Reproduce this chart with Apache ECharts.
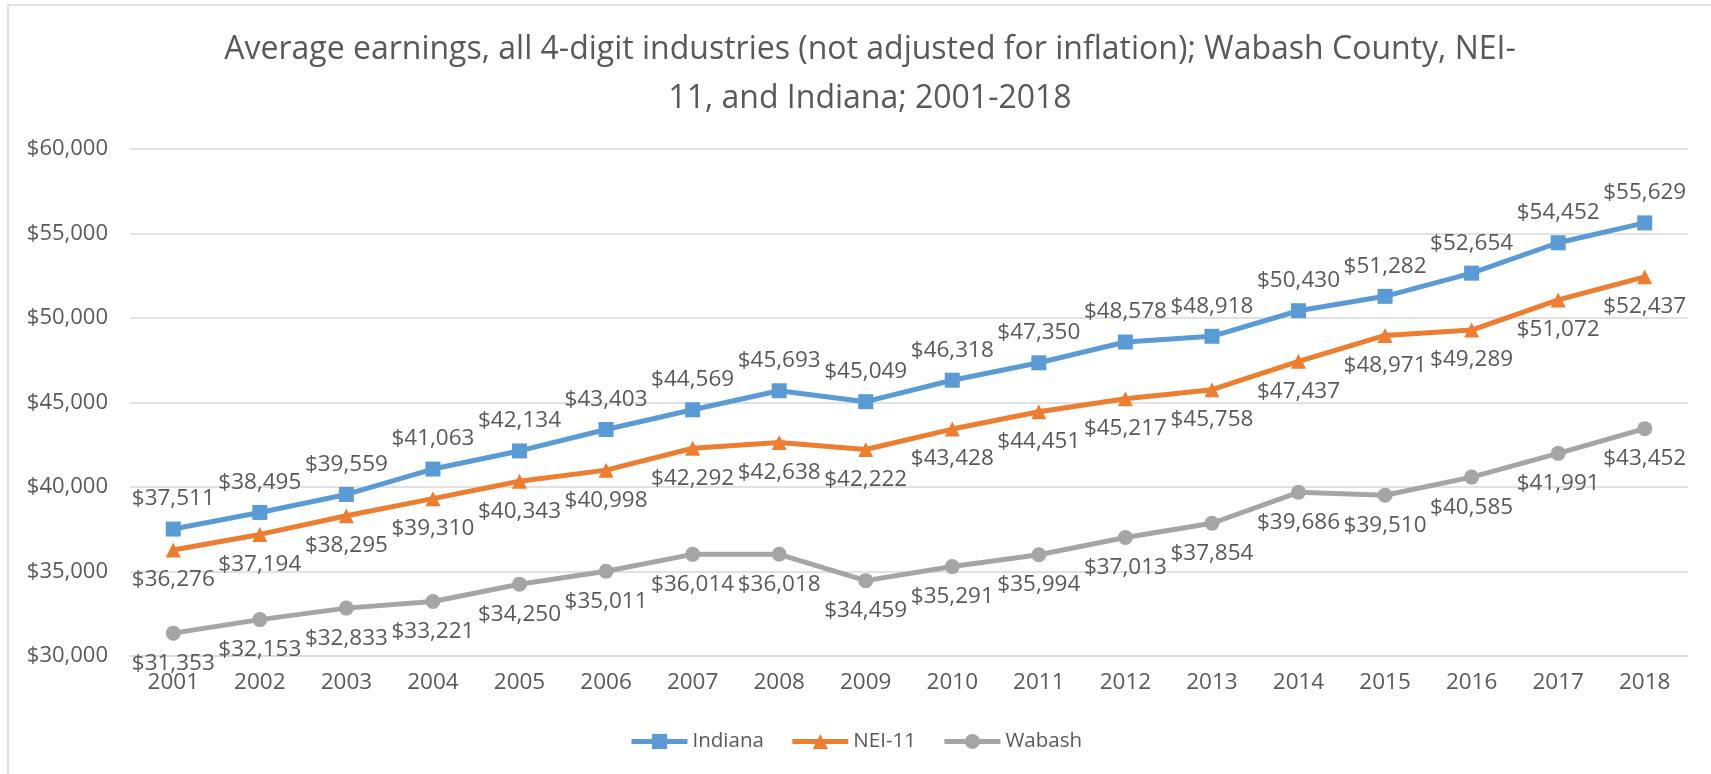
<!DOCTYPE html>
<html>
<head>
<meta charset="utf-8">
<script src="https://cdn.jsdelivr.net/npm/echarts@6/dist/echarts.min.js"></script>
<style>
  html, body { margin: 0; padding: 0; background: #ffffff; }
  #chart { width: 1711px; height: 774px; }
</style>
</head>
<body>
<div id="chart"></div>
<script>
// Years on the category axis
const years = ['2001','2002','2003','2004','2005','2006','2007','2008','2009',
               '2010','2011','2012','2013','2014','2015','2016','2017','2018'];

// Average earnings, not adjusted for inflation
const indiana = [37511, 38495, 39559, 41063, 42134, 43403, 44569, 45693, 45049,
                 46318, 47350, 48578, 48918, 50430, 51282, 52654, 54452, 55629];
const nei11   = [36276, 37194, 38295, 39310, 40343, 40998, 42292, 42638, 42222,
                 43428, 44451, 45217, 45758, 47437, 48971, 49289, 51072, 52437];
const wabash  = [31353, 32153, 32833, 33221, 34250, 35011, 36014, 36018, 34459,
                 35291, 35994, 37013, 37854, 39686, 39510, 40585, 41991, 43452];

// Value axis range
const yMin = 30000;
const yMax = 60000;
const yStep = 5000;

const FONT = '"Open Sans", "Noto Sans", sans-serif';
const TEXT = '#595959';

const money = v => '$' + Number(v).toLocaleString('en-US');

const chart = echarts.init(document.getElementById('chart'), null, { renderer: 'canvas' });

function lineSeries(name, data, color, symbol, labelPos) {
  return {
    name: name,
    type: 'line',
    data: data,
    symbol: symbol,
    symbolSize: 15,
    lineStyle: { color: color, width: 5 },
    itemStyle: { color: color },
    label: {
      show: true,
      position: labelPos,
      distance: 11,
      formatter: p => money(p.value),
      color: TEXT,
      fontFamily: FONT,
      fontSize: 22.5
    },
    emphasis: { disabled: true },
    animation: false
  };
}

chart.setOption({
  backgroundColor: '#ffffff',
  animation: false,
  title: {
    text: 'Average earnings, all 4-digit industries (not adjusted for inflation); Wabash County, NEI-\n11, and Indiana; 2001-2018',
    left: 865,
    top: 20,
    textAlign: 'center',
    textStyle: {
      color: TEXT,
      fontFamily: FONT,
      fontSize: 32,
      fontWeight: 'normal',
      lineHeight: 49
    }
  },
  legend: {
    bottom: 17,
    left: 'center',
    itemWidth: 56,
    itemHeight: 19,
    itemGap: 26,
    lineStyle: { width: 5 },
    textStyle: { color: TEXT, fontFamily: FONT, fontSize: 20.5 },
    data: ['Indiana', 'NEI-11', 'Wabash']
  },
  grid: { left: 130, right: 23, top: 149, bottom: 118, containLabel: false },
  xAxis: {
    type: 'category',
    data: years,
    boundaryGap: true,
    axisLine: { show: true, lineStyle: { color: '#D9D9D9', width: 1.5 } },
    axisTick: { show: false },
    axisLabel: { color: TEXT, fontFamily: FONT, fontSize: 22.5, margin: 15 }
  },
  yAxis: {
    type: 'value',
    min: yMin,
    max: yMax,
    interval: yStep,
    axisLine: { show: false },
    axisTick: { show: false },
    splitLine: { lineStyle: { color: '#D9D9D9', width: 1.5 } },
    axisLabel: { color: TEXT, fontFamily: FONT, fontSize: 22, margin: 22, formatter: money }
  },
  graphic: [
    { type: 'line', shape: { x1: 8, y1: 5, x2: 1711, y2: 5 }, style: { stroke: '#D9D9D9', lineWidth: 1.5 } },
    { type: 'line', shape: { x1: 8, y1: 5, x2: 8, y2: 774 }, style: { stroke: '#D9D9D9', lineWidth: 1.5 } }
  ],
  series: [
    lineSeries('Indiana', indiana, '#5B9BD5', 'rect', 'top'),
    lineSeries('NEI-11', nei11, '#ED7D31', 'triangle', 'bottom'),
    lineSeries('Wabash', wabash, '#A5A5A5', 'circle', 'bottom')
  ]
});
</script>
</body>
</html>
